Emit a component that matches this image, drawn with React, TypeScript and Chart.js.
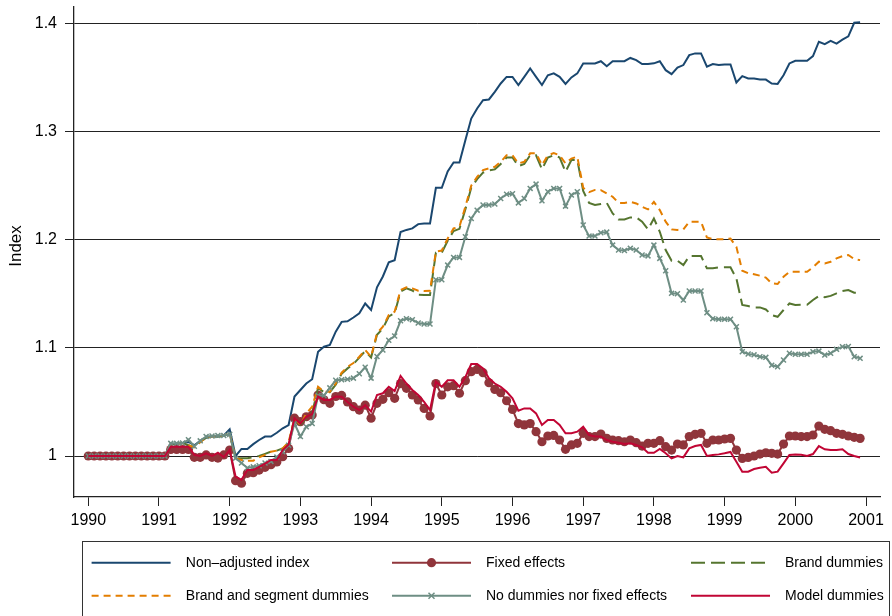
import React, { useEffect, useRef } from 'react';
import { Chart, registerables } from 'chart.js';

Chart.register(...registerables);

const startYear = 1990;
const yearTicks = [1990, 1991, 1992, 1993, 1994, 1995, 1996, 1997, 1998, 1999, 2000, 2001];
const indexTicks = [1, 1.1, 1.2, 1.3, 1.4];
const yTitle = 'Index';

const seriesLabels = [
  'Non\u2013adjusted index',
  'Fixed effects',
  'Brand dummies',
  'Brand and segment dummies',
  'No dummies nor fixed effects',
  'Model dummies',
];

// monthly values, Jan 1990 .. Dec 2000 (one row per year)
const nonAdjusted = [
  1, 1, 1, 1, 1, 1, 1, 1, 1, 1, 1, 1,
  1, 1, 1.011, 1.011, 1.012, 1.013, 1.010, 1.014, 1.017, 1.018, 1.018, 1.019,
  1.0247, 1.000, 1.0065, 1.0065, 1.011, 1.0148, 1.018, 1.018, 1.0215, 1.0256, 1.0286, 1.055,
  1.061, 1.067, 1.071, 1.0964, 1.101, 1.1026, 1.115, 1.124, 1.1245, 1.128, 1.132, 1.141,
  1.135, 1.156, 1.166, 1.179, 1.181, 1.207, 1.209, 1.2104, 1.2144, 1.215, 1.215, 1.248,
  1.248, 1.263, 1.2714, 1.2714, 1.292, 1.312, 1.3213, 1.329, 1.3296, 1.3367, 1.3444, 1.3505,
  1.3505, 1.3429, 1.3505, 1.3583, 1.3505, 1.343, 1.352, 1.3537, 1.3505, 1.344, 1.35, 1.3537,
  1.3629, 1.3629, 1.3629, 1.365, 1.3604, 1.365, 1.365, 1.365, 1.368, 1.366, 1.3623, 1.3623,
  1.363, 1.365, 1.3567, 1.353, 1.359, 1.3614, 1.3706, 1.3722, 1.3722, 1.36, 1.3623, 1.3614,
  1.362, 1.362, 1.3453, 1.3512, 1.349, 1.349, 1.348, 1.348, 1.3444, 1.344, 1.352, 1.3629,
  1.3654, 1.3654, 1.3654, 1.3697, 1.383, 1.3808, 1.3838, 1.3813, 1.385, 1.388, 1.4005, 1.401,
];

const fixedEffects = [
  1, 1, 1, 1, 1, 1, 1, 1, 1, 1, 1, 1,
  1, 1, 1.006, 1.006, 1.006, 1.006, 0.9988, 0.9988, 1.001, 0.9988, 0.9981, 1.001,
  1.0055, 0.9772, 0.9748, 0.984, 0.9846, 0.987, 0.9895, 0.992, 0.9945, 0.9994, 1.007, 1.035,
  1.0317, 1.0363, 1.038, 1.0564, 1.052, 1.0487, 1.055, 1.056, 1.050, 1.0456, 1.0425, 1.047,
  1.035, 1.0487, 1.0524, 1.0585, 1.0533, 1.067, 1.0626, 1.0564, 1.0518, 1.044, 1.037, 1.067,
  1.0564, 1.064, 1.065, 1.058, 1.0696, 1.078, 1.080, 1.077, 1.0677, 1.0616, 1.0585, 1.0511,
  1.0431, 1.030, 1.0287, 1.030, 1.0225, 1.0132, 1.0185, 1.019, 1.0148, 1.0062, 1.0102, 1.0117,
  1.021, 1.018, 1.018, 1.0203, 1.0163, 1.0148, 1.0142, 1.0132, 1.0148, 1.0123, 1.0092, 1.0117,
  1.0117, 1.0142, 1.0086, 1.0055, 1.011, 1.0102, 1.018, 1.020, 1.021, 1.0117, 1.0148, 1.0148,
  1.0157, 1.0163, 1.0055, 0.9978, 0.9987, 1.0, 1.0018, 1.003, 1.0025, 1.0018, 1.011, 1.0185,
  1.0185, 1.018, 1.018, 1.0194, 1.0277, 1.0247, 1.0234, 1.021, 1.020, 1.0185, 1.0173, 1.0163,
];

const brandDummies = [
  1, 1, 1, 1, 1, 1, 1, 1, 1, 1, 1, 1,
  1, 1, 1.011, 1.011, 1.012, 1.010, 1.008, 1.013, 1.017, 1.018, 1.018, 1.019,
  1.020, 0.998, 0.998, 0.998, 0.999, 1.000, 1.002, 1.004, 1.005, 1.007, 1.012, 1.033,
  1.029, 1.035, 1.040, 1.063, 1.059, 1.059, 1.066, 1.076, 1.081, 1.085, 1.091, 1.097,
  1.091, 1.112, 1.118, 1.129, 1.132, 1.152, 1.155, 1.153, 1.149, 1.1488, 1.1488, 1.188,
  1.188, 1.199, 1.208, 1.210, 1.228, 1.248, 1.256, 1.262, 1.264, 1.265, 1.270, 1.276,
  1.276, 1.268, 1.270, 1.278, 1.278, 1.265, 1.276, 1.278, 1.276, 1.2627, 1.2737, 1.2737,
  1.245, 1.234, 1.232, 1.233, 1.234, 1.2243, 1.2187, 1.2187, 1.2206, 1.2206, 1.2166, 1.2095,
  1.2196, 1.2073, 1.1904, 1.1805, 1.1805, 1.1765, 1.1848, 1.1848, 1.1848, 1.1735, 1.1735, 1.1744,
  1.1744, 1.1744, 1.1642, 1.1396, 1.1386, 1.1374, 1.1374, 1.1355, 1.1303, 1.1287, 1.135, 1.141,
  1.1396, 1.1398, 1.1398, 1.1442, 1.1479, 1.1467, 1.148, 1.1504, 1.1525, 1.1534, 1.151, 1.151,
];

const brandSegmentDummies = [
  1, 1, 1, 1, 1, 1, 1, 1, 1, 1, 1, 1,
  1, 1, 1.011, 1.011, 1.012, 1.010, 1.008, 1.013, 1.017, 1.018, 1.018, 1.019,
  1.021, 0.998, 0.9963, 0.9957, 0.9957, 0.9988, 1.001, 1.004, 1.005, 1.007, 1.013, 1.035,
  1.0286, 1.0394, 1.0456, 1.064, 1.0594, 1.0594, 1.067, 1.077, 1.0825, 1.086, 1.0918, 1.098,
  1.0918, 1.1134, 1.1195, 1.1303, 1.1334, 1.1534, 1.156, 1.155, 1.1528, 1.1525, 1.1528, 1.189,
  1.19, 1.201, 1.2104, 1.212, 1.2304, 1.250, 1.258, 1.2643, 1.266, 1.2674, 1.272, 1.278,
  1.278, 1.2705, 1.272, 1.2798, 1.28, 1.269, 1.278, 1.28, 1.278, 1.2705, 1.275, 1.2767,
  1.248, 1.244, 1.246, 1.2458, 1.2428, 1.2397, 1.234, 1.234, 1.235, 1.2335, 1.2304, 1.228,
  1.235, 1.2273, 1.2166, 1.2095, 1.209, 1.2095, 1.2166, 1.2166, 1.2166, 1.202, 1.2005, 1.2005,
  1.2005, 1.201, 1.1934, 1.1713, 1.169, 1.168, 1.1667, 1.165, 1.1596, 1.159, 1.1657, 1.1703,
  1.1703, 1.1703, 1.1703, 1.1744, 1.1796, 1.178, 1.1796, 1.1827, 1.1848, 1.1858, 1.182, 1.1811,
];

const noDummies = [
  1, 1, 1, 1, 1, 1, 1, 1, 1, 1, 1, 1,
  1, 1, 1.0117, 1.0117, 1.012, 1.015, 1.009, 1.014, 1.018, 1.0185, 1.019, 1.019,
  1.020, 0.998, 0.9935, 0.989, 0.990, 0.991, 0.9935, 0.995, 0.999, 1.004, 1.010, 1.030,
  1.018, 1.027, 1.030, 1.056, 1.056, 1.063, 1.070, 1.0705, 1.071, 1.072, 1.076, 1.082,
  1.072, 1.092, 1.098, 1.107, 1.111, 1.125, 1.127, 1.126, 1.123, 1.122, 1.122, 1.163,
  1.163, 1.1765, 1.1836, 1.1836, 1.2027, 1.2196, 1.2273, 1.232, 1.232, 1.233, 1.238, 1.242,
  1.2424, 1.234, 1.238, 1.2474, 1.2514, 1.236, 1.2443, 1.2474, 1.2474, 1.231, 1.2412, 1.2443,
  1.2135, 1.2033, 1.2033, 1.2064, 1.207, 1.195, 1.1904, 1.19, 1.192, 1.1904, 1.1858, 1.185,
  1.195, 1.1827, 1.1713, 1.1504, 1.150, 1.1442, 1.1525, 1.1525, 1.1525, 1.1325, 1.127, 1.1265,
  1.1265, 1.1265, 1.1195, 1.0964, 1.0943, 1.0935, 1.0918, 1.0912, 1.084, 1.0825, 1.0887, 1.095,
  1.094, 1.094, 1.094, 1.0964, 1.097, 1.0933, 1.095, 1.0986, 1.101, 1.1012, 1.0918, 1.0903,
];

const modelDummies = [
  1, 1, 1, 1, 1, 1, 1, 1, 1, 1, 1, 1,
  1, 1, 1.0086, 1.0086, 1.0086, 1.0086, 1.001, 1.0, 1.0025, 1.0, 1.003, 0.999,
  1.0055, 0.981, 0.978, 0.987, 0.987, 0.990, 0.993, 0.9963, 0.9963, 1.0055, 1.0106, 1.035,
  1.030, 1.0363, 1.039, 1.055, 1.0518, 1.0518, 1.055, 1.0548, 1.050, 1.0456, 1.0425, 1.047,
  1.041, 1.0564, 1.058, 1.064, 1.060, 1.074, 1.067, 1.061, 1.0564, 1.050, 1.0425, 1.0687,
  1.064, 1.070, 1.070, 1.064, 1.073, 1.085, 1.085, 1.081, 1.0718, 1.067, 1.064, 1.0594,
  1.0533, 1.0419, 1.044, 1.044, 1.0394, 1.0287, 1.0333, 1.0333, 1.0287, 1.021, 1.021, 1.0225,
  1.027, 1.0194, 1.018, 1.018, 1.0148, 1.0132, 1.0123, 1.0112, 1.0117, 1.0102, 1.008, 1.003,
  1.003, 1.0065, 1.0025, 0.9978, 1.0, 0.9987, 1.007, 1.0092, 1.0102, 1.0, 1.001, 1.0015,
  1.0025, 1.0037, 0.9947, 0.9855, 0.9855, 0.988, 0.9892, 0.990, 0.9846, 0.9855, 0.9932, 1.001,
  1.0015, 1.0012, 1.0, 1.0018, 1.0092, 1.0062, 1.0055, 1.0055, 1.0062, 1.0018, 1.0, 0.9987,
];

const FONT = "'Liberation Sans', Arial, Helvetica, sans-serif";

const styles = [
  { color: '#1a476f', dash: [] as number[], marker: null as null | string },
  { color: '#90353b', dash: [], marker: 'circle' },
  { color: '#55752f', dash: [14, 6], marker: null },
  { color: '#e37e00', dash: [7, 5], marker: null },
  { color: '#6e8e84', dash: [], marker: 'crossRot' },
  { color: '#c10534', dash: [], marker: null },
];

const toPoints = (vals: number[]) => vals.map((v, i) => ({ x: startYear + i / 12, y: v }));

const legendPlugin = {
  id: 'boxLegend',
  afterDraw(chart: any) {
    const ctx = chart.ctx as CanvasRenderingContext2D;
    ctx.save();
    // y-axis title
    ctx.fillStyle = '#000';
    ctx.font = `17px ${FONT}`;
    ctx.textAlign = 'center';
    ctx.textBaseline = 'middle';
    ctx.translate(16, 246);
    ctx.rotate(-Math.PI / 2);
    ctx.fillText(yTitle, 0, 0);
    ctx.restore();

    ctx.save();
    ctx.strokeStyle = '#333';
    ctx.lineWidth = 1;
    ctx.strokeRect(82.5, 541.5, 807, 90);
    const lineX = [91.6, 392, 691];
    const textX = [185.8, 486, 785];
    const rowY = [562.7, 595.7];
    ctx.font = `14px ${FONT}`;
    ctx.textBaseline = 'middle';
    ctx.textAlign = 'left';
    seriesLabels.forEach((label, k) => {
      const col = k % 3;
      const row = Math.floor(k / 3);
      const st = styles[k];
      const x0 = lineX[col];
      const x1 = x0 + 79;
      const y = rowY[row];
      ctx.save();
      ctx.strokeStyle = st.color;
      ctx.lineWidth = 2;
      ctx.setLineDash(st.dash);
      ctx.beginPath();
      ctx.moveTo(x0, y);
      ctx.lineTo(x1, y);
      ctx.stroke();
      ctx.setLineDash([]);
      const cx = (x0 + x1) / 2;
      if (st.marker === 'circle') {
        ctx.fillStyle = st.color;
        ctx.beginPath();
        ctx.arc(cx, y, 4.6, 0, Math.PI * 2);
        ctx.fill();
      } else if (st.marker === 'crossRot') {
        ctx.lineWidth = 1.5;
        const r = 3;
        ctx.beginPath();
        ctx.moveTo(cx - r, y - r);
        ctx.lineTo(cx + r, y + r);
        ctx.moveTo(cx - r, y + r);
        ctx.lineTo(cx + r, y - r);
        ctx.stroke();
      }
      ctx.restore();
      ctx.fillStyle = '#000';
      ctx.fillText(label, textX[col], y);
    });
    ctx.restore();
  },
};

export default function App() {
  const canvasRef = useRef<HTMLCanvasElement | null>(null);

  useEffect(() => {
    const canvas = canvasRef.current;
    if (!canvas) return;
    const allSeries = [nonAdjusted, fixedEffects, brandDummies, brandSegmentDummies, noDummies, modelDummies];
    const datasets = allSeries.map((vals, k) => {
      const st = styles[k];
      const base: any = {
        label: seriesLabels[k],
        data: toPoints(vals),
        borderColor: st.color,
        backgroundColor: st.color,
        borderWidth: 2,
        borderDash: st.dash,
        pointRadius: 0,
        tension: 0,
        fill: false,
        order: 5 - k,
      };
      if (st.marker === 'circle') {
        base.pointRadius = 4.6;
        base.pointStyle = 'circle';
        base.pointBorderWidth = 0;
        base.pointBackgroundColor = st.color;
      } else if (st.marker === 'crossRot') {
        base.pointRadius = 3.5;
        base.pointStyle = 'crossRot';
        base.pointBorderWidth = 1.5;
        base.pointBorderColor = st.color;
      }
      return base;
    });

    const chart = new Chart(canvas, {
      type: 'line',
      data: { datasets },
      plugins: [legendPlugin],
      options: {
        animation: false,
        responsive: false,
        devicePixelRatio: 1,
        parsing: false as any,
        layout: { padding: { left: 0, right: 12, top: 7, bottom: 75 } },
        plugins: { legend: { display: false }, tooltip: { enabled: false }, title: { display: false } },
        scales: {
          x: {
            type: 'linear',
            min: 1989.798,
            max: 2001.198,
            afterBuildTicks: (axis: any) => {
              axis.ticks = yearTicks.map((v) => ({ value: v }));
            },
            afterFit: (axis: any) => {
              axis.height = 44;
              axis.paddingLeft = 0;
              axis.paddingRight = 0;
            },
            grid: { display: true, drawOnChartArea: false, drawTicks: true, tickLength: 9, color: '#222', lineWidth: 1 },
            border: { display: true, color: '#222', width: 1.3 },
            ticks: {
              autoSkip: false,
              maxRotation: 0,
              padding: 5,
              color: '#000',
              font: { family: FONT, size: 16 },
              callback: (v: any) => String(v),
            },
          },
          y: {
            type: 'linear',
            min: 0.9621,
            max: 1.4151,
            afterBuildTicks: (axis: any) => {
              axis.ticks = indexTicks.map((v) => ({ value: v }));
            },
            afterFit: (axis: any) => {
              axis.width = 74;
              axis.paddingTop = 0;
              axis.paddingBottom = 0;
            },
            grid: { display: true, drawOnChartArea: true, drawTicks: true, tickLength: 9, color: '#222', lineWidth: 1 },
            border: { display: true, color: '#222', width: 1.3 },
            ticks: {
              padding: 8,
              color: '#000',
              font: { family: FONT, size: 16 },
              callback: (v: any) => String(v),
            },
          },
        },
      },
    });
    return () => chart.destroy();
  }, []);

  return (
    <div style={{ position: 'fixed', left: 0, top: 0, width: 892, height: 616, background: '#fff' }}>
      <canvas ref={canvasRef} width={892} height={616} style={{ width: 892, height: 616, display: 'block' }} />
    </div>
  );
}
